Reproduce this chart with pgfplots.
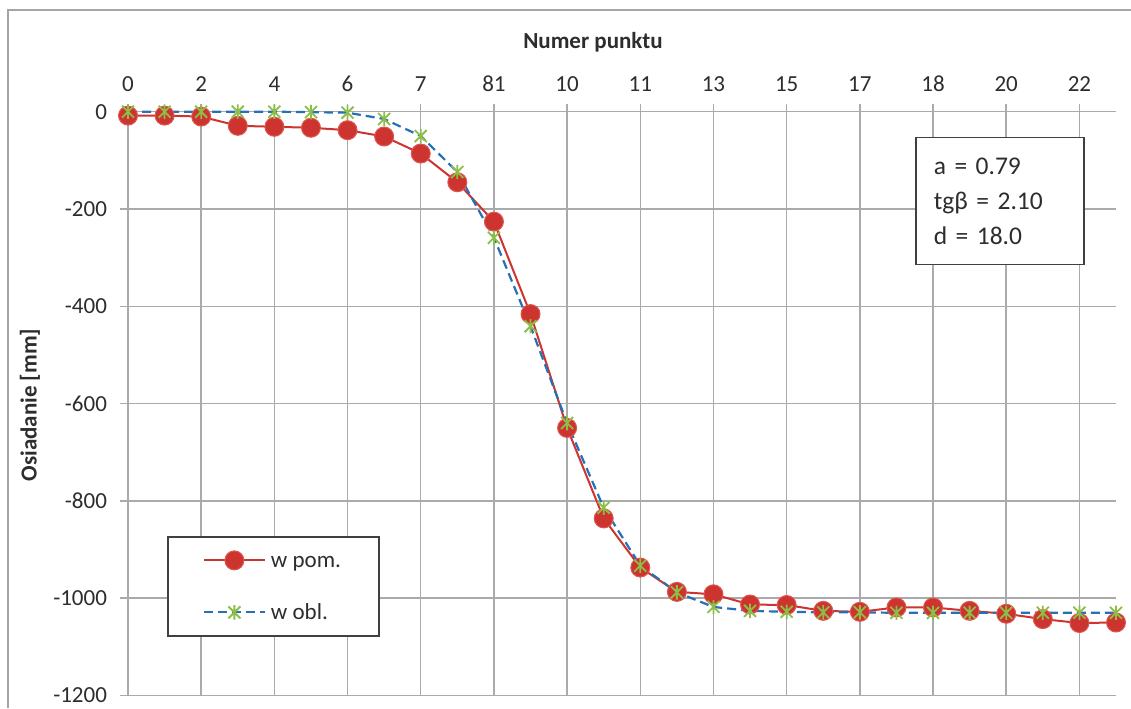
\documentclass[border=0pt]{standalone}
\usepackage{pgfplots}
\usepackage{pgfplotstable}
\pgfplotsset{compat=1.18}
\usepackage{fontspec}
\setmainfont{Carlito}

\definecolor{pomred}{RGB}{205,52,47}
\definecolor{pomedge}{RGB}{222,88,82}
\definecolor{oblblue}{RGB}{38,112,184}
\definecolor{oblgreen}{RGB}{140,190,72}
\definecolor{gridgray}{RGB}{170,170,170}
\definecolor{framegray}{RGB}{165,165,165}
\definecolor{txt}{RGB}{45,45,45}

% star marker: a cross with a vertical bar through it
\pgfdeclareplotmark{xstar}{%
  \pgfpathmoveto{\pgfpoint{-\pgfplotmarksize}{-\pgfplotmarksize}}%
  \pgfpathlineto{\pgfpoint{\pgfplotmarksize}{\pgfplotmarksize}}%
  \pgfpathmoveto{\pgfpoint{-\pgfplotmarksize}{\pgfplotmarksize}}%
  \pgfpathlineto{\pgfpoint{\pgfplotmarksize}{-\pgfplotmarksize}}%
  \pgfpathmoveto{\pgfpoint{0pt}{-1.2\pgfplotmarksize}}%
  \pgfpathlineto{\pgfpoint{0pt}{1.2\pgfplotmarksize}}%
  \pgfusepathqstroke}

% settlement per survey point (index along the profile)
\pgfplotstableread{
i pom obl
0 -8 0
1 -8 0
2 -10 0
3 -29 0
4 -31 0
5 -33 -1
6 -38 -2
7 -51 -15
8 -86 -50
9 -145 -124
10 -226 -259
11 -416 -441
12 -650 -640
13 -836 -814
14 -937 -933
15 -987 -988
16 -992 -1018
17 -1013 -1026
18 -1014 -1028
19 -1026 -1029
20 -1028 -1029
21 -1019 -1030
22 -1019 -1030
23 -1026 -1030
24 -1032 -1030
25 -1043 -1030
26 -1051 -1030
27 -1050 -1030
}\settle

\begin{document}
\begin{tikzpicture}
\path[use as bounding box] (0,0) rectangle (565.5pt,354pt);
\draw[framegray, line width=1pt] (4pt,0pt) -- (4pt,349pt) -- (565.5pt,349pt);

\begin{axis}[
  at={(64pt,6.25pt)}, anchor=south west,
  scale only axis, width=494pt, height=291.9pt,
  xmin=0, xmax=27, ymin=-1200, ymax=0,
  axis x line*=top, axis y line*=left,
  axis line style={gridgray, line width=0.75pt},
  xtick={0,2,...,26},
  xticklabels={0,2,4,6,7,81,10,11,13,15,17,18,20,22},
  ytick={-1200,-1000,...,0},
  tick align=outside, major tick length=4pt,
  tick style={gridgray, line width=0.75pt},
  grid=major, major grid style={gridgray, line width=0.75pt},
  ticklabel style={font=\fontsize{11.5}{13}\selectfont, text=txt},
  xticklabel style={yshift=2.5pt},
  yticklabel style={xshift=-3pt},
  /pgf/number format/assume math mode=true,
  /pgf/number format/1000 sep={},
  clip=false,
  legend image code/.code={%
    \draw[mark repeat=2, mark phase=2, #1]
      plot coordinates {(0pt,0pt) (15.25pt,0pt) (30.5pt,0pt)};},
  legend style={at={(0.0395,0.273)}, anchor=north west,
    draw=black!75, line width=0.75pt, fill=white,
    inner xsep=17.5pt, inner ysep=6.5pt,
    row sep=15.5pt, column sep=2.5pt,
    font=\fontsize{11.5}{13}\selectfont, text=txt,
    nodes={inner sep=0pt}},
  legend cell align=left,
]
\addplot[pomred, line width=1pt, mark=*, mark size=4.75pt,
  mark options={fill=pomred, draw=pomedge, line width=0.5pt, solid}]
  table[x=i, y=pom] {\settle};
\addlegendentry{\rule[-3pt]{0pt}{12pt}\makebox[36.5pt][l]{w pom.}}

\addplot[oblblue, line width=1.1pt, dash pattern=on 4.5pt off 2.5pt,
  mark=xstar, mark size=3pt,
  mark options={draw=oblgreen, line width=0.9pt, solid}]
  table[x=i, y=obl] {\settle};
\addlegendentry{\rule[-3pt]{0pt}{12pt}\makebox[36.5pt][l]{w obl.}}

\node[draw=black!75, line width=0.75pt, fill=white, anchor=north west,
  inner xsep=9pt, minimum height=63.5pt, text width=66pt, align=left,
  font=\fontsize{12.75}{17.5}\selectfont, text=txt]
  at (rel axis cs:0.7966,0.9567) {a = 0.79\\tgβ = 2.10\\d = 18.0};
\end{axis}

\node[font=\bfseries\fontsize{11.5}{13}\selectfont, text=txt] at (296.5pt,333pt) {Numer punktu};
\node[rotate=90, font=\bfseries\fontsize{11.5}{13}\selectfont, text=txt] at (15pt,151.5pt) {Osiadanie [mm]};
\end{tikzpicture}
\end{document}
